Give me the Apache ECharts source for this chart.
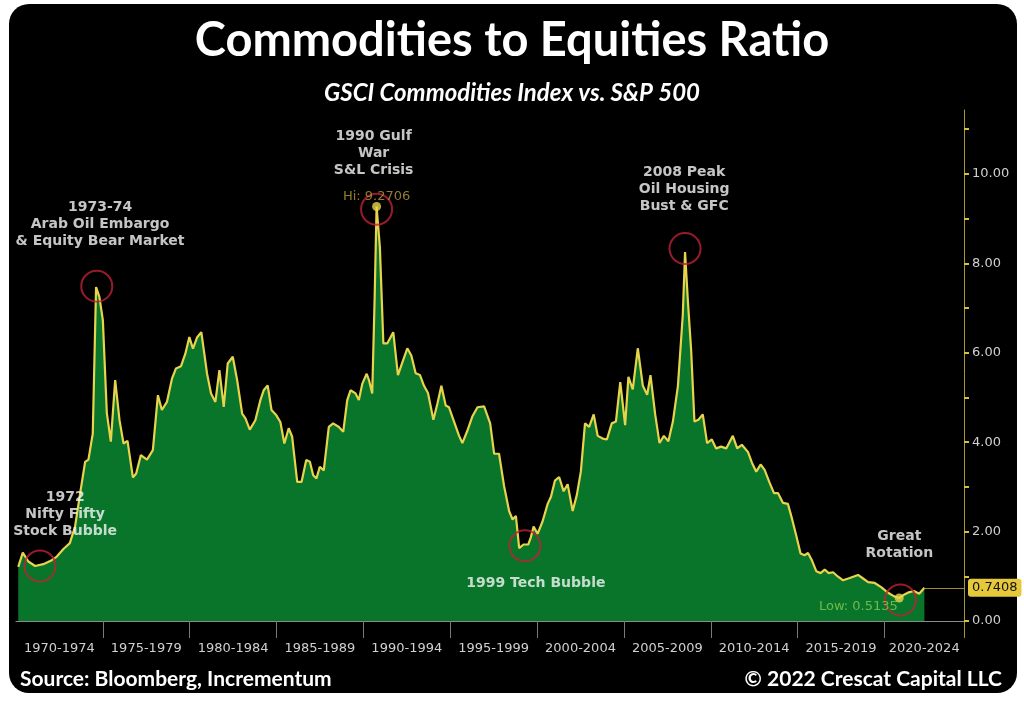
<!DOCTYPE html>
<html>
<head>
<meta charset="utf-8">
<script src="https://cdn.jsdelivr.net/npm/echarts@6/dist/echarts.min.js"></script>
<style>
html,body{margin:0;padding:0;background:#fff;width:1024px;height:701px;overflow:hidden;}
#bg{position:absolute;left:9px;top:4px;width:1008px;height:689px;background:#000;border-radius:20px;}
#chart{position:absolute;left:0;top:0;width:1024px;height:701px;}
</style>
</head>
<body>
<div id="bg"></div>
<div id="chart"></div>
<script>
// ---- data ----
const years = [
1970.13,1970.39,1970.71,1971.10,1971.57,1972.06,1972.35,1972.73,1973.10,1973.40,
1973.69,1973.98,1974.17,1974.42,1974.61,1974.80,1975.00,1975.23,1975.46,1975.71,
1975.96,1976.19,1976.42,1976.73,1976.92,1977.19,1977.54,1977.88,1978.17,1978.40,
1978.69,1978.98,1979.21,1979.50,1979.75,1979.98,1980.19,1980.42,1980.67,1981.00,
1981.23,1981.48,1981.71,1981.96,1982.19,1982.48,1982.73,1983.02,1983.21,1983.46,
1983.78,1984.07,1984.26,1984.49,1984.71,1984.99,1985.22,1985.45,1985.70,1985.90,
1986.19,1986.44,1986.71,1986.92,1987.11,1987.30,1987.49,1987.72,1988.01,1988.26,
1988.59,1988.84,1989.07,1989.26,1989.55,1989.74,1989.94,1990.19,1990.32,1990.51,
1990.65,1990.76,1990.95,1991.15,1991.38,1991.72,1991.99,1992.24,1992.53,1992.76,
1993.01,1993.26,1993.49,1993.72,1994.03,1994.26,1994.49,1994.74,1994.93,1995.22,
1995.51,1995.70,1995.99,1996.28,1996.57,1996.95,1997.30,1997.53,1997.81,1998.10,
1998.39,1998.59,1998.78,1998.97,1999.22,1999.49,1999.64,1999.80,2000.03,2000.32,
2000.61,2000.80,2001.03,2001.27,2001.53,2001.76,2002.05,2002.29,2002.52,2002.76,
2003.00,2003.26,2003.49,2003.78,2004.02,2004.30,2004.54,2004.79,2005.07,2005.26,
2005.51,2005.80,2006.09,2006.34,2006.53,2006.80,2007.05,2007.30,2007.56,2007.82,
2008.11,2008.39,2008.52,2008.68,2008.87,2009.06,2009.29,2009.54,2009.79,2010.06,
2010.31,2010.60,2010.89,2011.27,2011.52,2011.79,2012.14,2012.37,2012.62,2012.87,
2013.10,2013.38,2013.64,2013.87,2014.16,2014.44,2014.67,2014.92,2015.17,2015.40,
2015.60,2015.83,2016.08,2016.32,2016.56,2016.79,2017.04,2017.33,2017.62,2018.00,
2018.48,2018.77,2019.06,2019.44,2019.83,2020.21,2020.56,2020.85,2021.10,2021.40,
2021.70,2022.00,2022.30
];
const ratio = [
1.21,1.53,1.33,1.23,1.27,1.36,1.44,1.61,1.74,2.11,
2.85,3.56,3.61,4.19,7.47,7.25,6.73,4.65,4.01,5.39,
4.49,3.97,4.03,3.21,3.30,3.71,3.61,3.82,5.05,4.72,
4.90,5.42,5.65,5.70,5.98,6.35,6.09,6.34,6.46,5.53,
5.09,4.90,5.61,4.79,5.76,5.91,5.39,4.64,4.53,4.28,
4.49,4.94,5.16,5.27,4.72,4.60,4.45,3.97,4.31,4.12,
3.11,3.11,3.60,3.56,3.26,3.19,3.45,3.37,4.34,4.42,
4.34,4.23,4.94,5.16,5.09,4.94,5.31,5.53,5.39,5.09,
7.25,9.2706,8.36,6.21,6.21,6.46,5.50,5.78,6.10,5.94,
5.54,5.50,5.26,5.10,4.50,4.86,5.26,4.82,4.78,4.46,
4.14,3.98,4.26,4.58,4.78,4.80,4.42,3.74,3.74,3.02,
2.46,2.27,2.35,1.63,1.71,1.71,1.87,2.11,1.95,2.23,
2.62,2.78,3.14,3.22,2.90,3.06,2.46,2.82,3.34,4.42,
4.34,4.62,4.14,4.08,4.06,4.42,4.46,5.34,4.38,5.46,
5.18,6.10,5.26,5.06,5.50,4.62,3.98,4.14,4.02,4.46,
5.26,6.85,8.25,7.17,6.06,4.46,4.50,4.62,3.98,4.06,
3.86,3.90,3.86,4.14,3.86,3.94,3.78,3.54,3.34,3.50,
3.38,3.10,2.86,2.86,2.64,2.62,2.30,1.91,1.51,1.47,
1.52,1.35,1.11,1.07,1.15,1.07,1.09,0.99,0.91,0.96,
1.03,0.95,0.87,0.85,0.75,0.63,0.55,0.5135,0.58,0.64,
0.67,0.61,0.7408
];
const periodLabels = ['1970-1974','1975-1979','1980-1984','1985-1989','1990-1994','1995-1999',
  '2000-2004','2005-2009','2010-2014','2015-2019','2020-2024'];
const periodStarts = [1970,1975,1980,1985,1990,1995,2000,2005,2010,2015,2020];
const yTickValues = [0,1,2,3,4,5,6,7,8,9,10,11];
const yLabelValues = [0,2,4,6,8,10];

// highlighted events (circled points)
const circleYears  = [1971.38, 1974.65, 1990.76, 1999.30, 2008.52, 2020.92];
const circleValues = [1.23, 7.49, 9.21, 1.68, 8.33, 0.47];
// annotation texts anchored in data space
const noteTexts  = ['1972\nNifty Fifty\nStock Bubble', '1973-74\nArab Oil Embargo\n& Equity Bear Market',
  '1990 Gulf\nWar\nS&L Crisis', '1999 Tech Bubble', '2008 Peak\nOil Housing\nBust & GFC', 'Great\nRotation'];
const noteYears  = [1972.83, 1974.84, 1990.59, 1999.93, 2008.47, 2020.86];
const noteValues = [2.39, 8.87, 10.46, 0.83, 9.65, 1.70];
// extremes
const hiYear = 1990.76, hiValue = 9.2706;
const lowYear = 2020.85, lowValue = 0.5135;
const lastYear = years[years.length-1], lastValue = ratio[ratio.length-1];

const xMin = 1970, xMax = 2024.58;
const yMin = -0.37, yMax = 11.43;

const chart = echarts.init(document.getElementById('chart'), null, {renderer:'canvas'});
const lineData = years.map((y,i)=>[y, ratio[i]]);
const labelCenters = periodStarts.map(s => (s + Math.min(s+5, xMax))/2);

const annFont = {fontFamily:'DejaVu Sans', fontWeight:'bold', fontSize:14, color:'#f6f6f6', lineHeight:17, align:'center'};

chart.setOption({
  backgroundColor:'transparent',
  animation:false,
  title:[
    {text:'Commodities to Equities Ratio', left:'center', top:12,
     textStyle:{color:'#fff', fontFamily:'Lato', fontWeight:'bold', fontSize:47}},
    {text:'GSCI Commodities Index vs. S&P 500', left:'center', top:76,
     textStyle:{color:'#fff', fontFamily:'Lato', fontWeight:'bold', fontStyle:'italic', fontSize:24}},
    {text:'Source: Bloomberg, Incrementum', left:20, top:669, padding:0,
     textStyle:{color:'#fff', fontFamily:'Lato', fontWeight:'bold', fontSize:21}},
    {text:'© 2022 Crescat Capital LLC', right:22, top:669, padding:0,
     textStyle:{color:'#fff', fontFamily:'Lato', fontWeight:'bold', fontSize:21}}
  ],
  grid:{left:16, right:60, top:110, bottom:63.5, containLabel:false},
  xAxis:{
    type:'value', min:xMin, max:xMax,
    axisLine:{show:true, lineStyle:{color:'#8a8a8a', width:1}},
    axisTick:{show:true, customValues:periodStarts.slice(1), length:17, inside:false,
              lineStyle:{color:'#7a7a7a', width:1}},
    minorTick:{show:false},
    splitLine:{show:false},
    axisLabel:{show:true, customValues:labelCenters, margin:5,
      color:'#d0d0d0', fontFamily:'DejaVu Sans', fontSize:13,
      formatter:(v)=>{const i=labelCenters.findIndex(c=>Math.abs(c-v)<0.01); return i>=0?periodLabels[i]:'';}}
  },
  yAxis:{
    type:'value', position:'right', min:yMin, max:yMax,
    axisLine:{show:true, lineStyle:{color:'#a89638', width:1}},
    axisTick:{show:true, customValues:yTickValues, length:5, inside:false,
              lineStyle:{color:'#d8c040', width:2}},
    splitLine:{show:false},
    axisLabel:{show:true, customValues:yLabelValues, margin:8,
      color:'#d0d0d0', fontFamily:'DejaVu Sans', fontSize:13,
      formatter:(v)=>v.toFixed(2)}
  },
  series:[
    {type:'line', data:lineData, showSymbol:false, symbol:'none', smooth:false,
     lineStyle:{color:'#e8d44c', width:2.2},
     areaStyle:{color:'#08752a', opacity:1},
     z:2,
     markLine:{symbol:'none', silent:true, animation:false,
       lineStyle:{color:'#a08838', width:1, type:'solid'},
       label:{show:true, position:'end', distance:4, formatter:lastValue.toFixed(4),
         backgroundColor:'#e6c83c', color:'#111', padding:[3,4,2,4], borderRadius:3,
         fontFamily:'DejaVu Sans', fontSize:13},
       data:[[{coord:[lastYear,lastValue]},{coord:[xMax,lastValue]}]]}
    },
    {type:'scatter', name:'events', silent:true, z:5,
     data:circleYears.map((y,i)=>[y,circleValues[i]]),
     symbol:'circle', symbolSize:31,
     itemStyle:{color:'rgba(0,0,0,0)', borderColor:'#bd2236', borderWidth:2}
    },
    {type:'scatter', name:'extremes', silent:true, z:6,
     data:[[hiYear,hiValue],[lowYear,lowValue]],
     symbol:'circle', symbolSize:9, itemStyle:{color:'#e8d44c'}
    },
    {type:'scatter', name:'notes', silent:true, z:7,
     data:noteYears.map((y,i)=>({value:[y,noteValues[i]], name:noteTexts[i]})),
     symbolSize:0,
     label:{show:true, position:'inside', formatter:'{b}', ...annFont}
    },
    {type:'scatter', name:'hiLow', silent:true, z:7,
     data:[
       {value:[hiYear,9.50], name:'Hi: ' + hiValue.toFixed(4), label:{color:'#b89b3c'}},
       {value:[2018.5,0.31], name:'Low: ' + lowValue.toFixed(4), label:{color:'#8cc850'}}
     ],
     symbolSize:0,
     label:{show:true, position:'inside', formatter:'{b}', fontFamily:'DejaVu Sans', fontSize:13}
    }
  ]
});
</script>
</body>
</html>
